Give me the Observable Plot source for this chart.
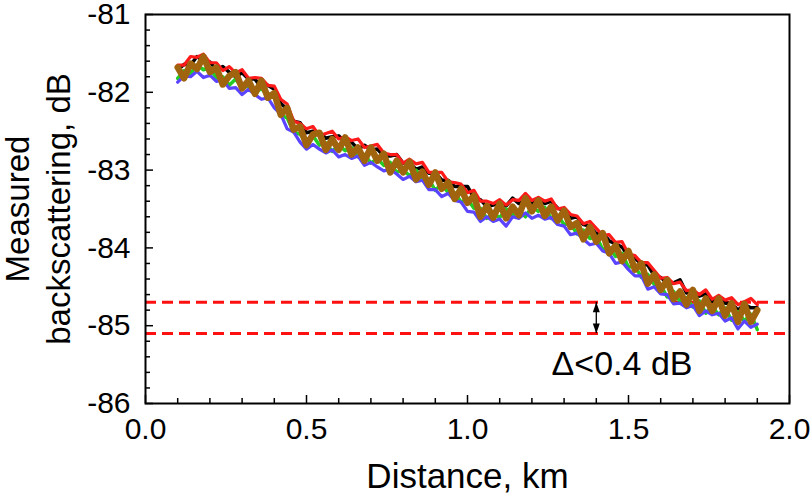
<!DOCTYPE html>
<html>
<head>
<meta charset="utf-8">
<script src="https://cdn.jsdelivr.net/npm/d3@7"></script>
<script src="https://cdn.jsdelivr.net/npm/@observablehq/plot@0.6"></script>
<style>
  html, body { margin: 0; padding: 0; background: #fff; }
  #chart svg { display: block; overflow: visible; }
</style>
</head>
<body>
<div id="chart"></div>
<script>
// Sampling positions along the fibre (km)
const distance = [0.10,0.12,0.14,0.16,0.18,0.20,0.22,0.24,0.26,0.28,0.30,0.32,0.34,0.36,0.38,0.40,0.42,0.44,0.46,0.48,
  0.50,0.52,0.54,0.56,0.58,0.60,0.62,0.64,0.66,0.68,0.70,0.72,0.74,0.76,0.78,0.80,0.82,0.84,0.86,0.88,
  0.90,0.92,0.94,0.96,0.98,1.00,1.02,1.04,1.06,1.08,1.10,1.12,1.14,1.16,1.18,1.20,1.22,1.24,1.26,1.28,
  1.30,1.32,1.34,1.36,1.38,1.40,1.42,1.44,1.46,1.48,1.50,1.52,1.54,1.56,1.58,1.60,1.62,1.64,1.66,1.68,
  1.70,1.72,1.74,1.76,1.78,1.80,1.82,1.84,1.86,1.88,1.90];

// Measured backscattering traces (dB)
const traceBlack = [-81.71,-81.64,-81.65,-81.54,-81.60,-81.61,-81.71,-81.67,-81.74,-81.80,-81.75,-81.83,-81.83,-81.94,-81.91,-81.96,-82.14,-82.22,-82.37,-82.39,
  -82.52,-82.50,-82.51,-82.59,-82.57,-82.56,-82.64,-82.64,-82.73,-82.68,-82.74,-82.73,-82.82,-82.82,-82.80,-82.91,-82.91,-82.99,-82.96,-83.04,
  -83.03,-83.13,-83.13,-83.21,-83.21,-83.21,-83.36,-83.38,-83.47,-83.45,-83.41,-83.46,-83.36,-83.43,-83.39,-83.43,-83.36,-83.43,-83.40,-83.49,
  -83.52,-83.62,-83.60,-83.70,-83.72,-83.82,-83.80,-83.91,-83.95,-83.99,-84.11,-84.13,-84.21,-84.22,-84.36,-84.38,-84.45,-84.45,-84.41,-84.58,
  -84.57,-84.62,-84.59,-84.69,-84.65,-84.71,-84.71,-84.80,-84.73,-84.77,-84.77];
const traceRed = [-81.65,-81.65,-81.54,-81.55,-81.51,-81.62,-81.62,-81.72,-81.67,-81.75,-81.71,-81.82,-81.81,-81.82,-81.91,-81.92,-82.09,-82.15,-82.37,-82.40,
  -82.47,-82.44,-82.56,-82.53,-82.50,-82.60,-82.57,-82.62,-82.60,-82.71,-82.69,-82.67,-82.78,-82.80,-82.80,-82.91,-82.86,-82.92,-82.90,-83.03,
  -83.03,-83.03,-83.15,-83.16,-83.18,-83.29,-83.26,-83.40,-83.40,-83.43,-83.38,-83.45,-83.38,-83.39,-83.30,-83.39,-83.35,-83.40,-83.37,-83.50,
  -83.48,-83.57,-83.59,-83.69,-83.66,-83.75,-83.84,-83.83,-83.93,-83.92,-84.08,-84.10,-84.19,-84.19,-84.29,-84.39,-84.38,-84.46,-84.44,-84.55,
  -84.54,-84.60,-84.54,-84.66,-84.61,-84.67,-84.64,-84.73,-84.69,-84.65,-84.73];
const traceGreen = [-81.82,-81.72,-81.76,-81.65,-81.71,-81.68,-81.82,-81.80,-81.91,-81.83,-81.94,-81.92,-82.01,-81.95,-82.05,-82.06,-82.29,-82.33,-82.51,-82.54,
  -82.65,-82.56,-82.68,-82.65,-82.76,-82.68,-82.75,-82.71,-82.83,-82.80,-82.91,-82.85,-82.94,-82.90,-83.03,-83.00,-83.07,-83.00,-83.12,-83.12,
  -83.26,-83.18,-83.29,-83.29,-83.41,-83.37,-83.49,-83.49,-83.62,-83.56,-83.61,-83.50,-83.58,-83.52,-83.60,-83.47,-83.53,-83.48,-83.62,-83.58,
  -83.70,-83.69,-83.82,-83.77,-83.88,-83.85,-84.02,-83.99,-84.11,-84.07,-84.25,-84.23,-84.38,-84.34,-84.47,-84.48,-84.63,-84.56,-84.69,-84.64,
  -84.76,-84.68,-84.84,-84.75,-84.86,-84.77,-84.93,-84.82,-84.94,-84.85,-85.05];
const traceBlue = [-81.87,-81.79,-81.80,-81.73,-81.81,-81.78,-81.86,-81.84,-81.95,-81.94,-82.03,-81.96,-82.03,-82.09,-82.07,-82.20,-82.28,-82.47,-82.51,-82.64,
  -82.73,-82.67,-82.73,-82.78,-82.74,-82.83,-82.80,-82.85,-82.82,-82.94,-82.90,-82.96,-83.01,-82.99,-83.05,-83.12,-83.08,-83.15,-83.13,-83.25,
  -83.25,-83.34,-83.30,-83.39,-83.41,-83.53,-83.54,-83.66,-83.60,-83.66,-83.63,-83.72,-83.60,-83.62,-83.55,-83.62,-83.58,-83.63,-83.61,-83.70,
  -83.72,-83.83,-83.81,-83.89,-83.96,-83.94,-84.04,-84.07,-84.20,-84.18,-84.28,-84.36,-84.36,-84.53,-84.50,-84.59,-84.60,-84.72,-84.71,-84.77,
  -84.74,-84.87,-84.81,-84.86,-84.84,-84.94,-84.90,-85.04,-84.94,-85.02,-84.98];
const traceBrown = [-81.68,-81.82,-81.63,-81.70,-81.54,-81.74,-81.68,-81.90,-81.79,-81.74,-81.95,-81.85,-82.02,-81.85,-82.07,-82.01,-82.29,-82.20,-82.48,-82.44,
  -82.68,-82.54,-82.52,-82.74,-82.60,-82.74,-82.58,-82.80,-82.71,-82.88,-82.71,-82.88,-82.79,-83.03,-82.88,-83.03,-82.89,-83.12,-83.02,-83.19,
  -83.03,-83.24,-83.16,-83.37,-83.24,-83.42,-83.33,-83.60,-83.46,-83.61,-83.43,-83.62,-83.47,-83.58,-83.36,-83.53,-83.39,-83.59,-83.47,-83.65,
  -83.52,-83.73,-83.68,-83.89,-83.73,-83.92,-83.81,-84.07,-83.97,-84.17,-84.04,-84.28,-84.20,-84.46,-84.34,-84.54,-84.41,-84.66,-84.56,-84.73,
  -84.54,-84.81,-84.65,-84.81,-84.65,-84.87,-84.71,-84.95,-84.72,-84.95,-84.80];

const traceColors = ["#000000", "#ff1a1a", "#22cc22", "#5a44ff", "#a0640e"];
const traceWidths = [3.5, 3.2, 3.5, 3.2, 6.5];
const traces = [traceBlack, traceRed, traceGreen, traceBlue, traceBrown];

// Annotation values
const dashLevels = [-84.7, -85.1];
const arrowDistance = [1.4];
const deltaLabel = ["Δ<0.4 dB"];
const deltaLabelPos = {x: 1.48, y: -85.5};

// Axis ticks
const xMajorTicks = [0, 0.5, 1.0, 1.5, 2.0];
const xMinorTicks = [0.1,0.2,0.3,0.4,0.6,0.7,0.8,0.9,1.1,1.2,1.3,1.4,1.6,1.7,1.8,1.9];
const yMajorTicks = [-86, -85, -84, -83, -82, -81];
const yMinorTicks = [-85.8,-85.6,-85.4,-85.2,-84.8,-84.6,-84.4,-84.2,-83.8,-83.6,-83.4,-83.2,-82.8,-82.6,-82.4,-82.2,-81.8,-81.6,-81.4,-81.2];
const xTitle = "Distance, km";
const yTitle = "Measured\nbackscattering, dB";

const font = "'Liberation Sans', Arial, Helvetica, sans-serif";

const lineMarks = traces.map((vals, k) =>
  Plot.line(distance.map((d, i) => ({d, v: vals[i]})), {
    x: "d", y: "v", stroke: traceColors[k], strokeWidth: traceWidths[k], strokeLinejoin: "round"
  })
);

// narrow filled arrow head, tip at origin, pointing up
const headSymbol = {
  draw(ctx) { ctx.moveTo(0, 0); ctx.lineTo(-3.5, 10); ctx.lineTo(3.5, 10); ctx.closePath(); }
};

const chart = Plot.plot({
  width: 810,
  height: 495,
  marginLeft: 145,
  marginRight: 21,
  marginTop: 14,
  marginBottom: 92,
  style: {fontFamily: font, fontSize: "30px", color: "#000", background: "#fff", overflow: "visible"},
  x: {domain: [0, 2], label: null},
  y: {domain: [-86, -81], label: null},
  marks: [
    Plot.ruleY(dashLevels, {stroke: "#ff1010", strokeWidth: 3, strokeDasharray: "11,6"}),
    ...lineMarks,
    Plot.ruleX(arrowDistance, {y1: dashLevels[0], y2: dashLevels[1], stroke: "#000", strokeWidth: 1.3}),
    Plot.dot(arrowDistance, {x: d => d, y: dashLevels[0], symbol: headSymbol, fill: "#000", stroke: null}),
    Plot.dot(arrowDistance, {x: d => d, y: dashLevels[1], symbol: headSymbol, fill: "#000", stroke: null, rotate: 180}),
    Plot.text(deltaLabel, {x: deltaLabelPos.x, y: deltaLabelPos.y, text: d => d, fontSize: 34, fill: "#000"}),
    Plot.frame({stroke: "#000", strokeWidth: 2}),
    Plot.axisX(xMinorTicks, {tickSize: -5, tickFormat: () => "", strokeWidth: 1.5, label: null}),
    Plot.axisX(xMajorTicks, {tickSize: -8, tickFormat: () => "", strokeWidth: 1.5, label: null}),
    Plot.axisX(xMajorTicks, {tickSize: 0, tickPadding: 14, tickFormat: d3.format(".1f"), fontSize: 30, label: null}),
    Plot.axisY(yMinorTicks, {tickSize: -5, tickFormat: () => "", strokeWidth: 1.5, label: null}),
    Plot.axisY(yMajorTicks, {tickSize: -8, tickFormat: () => "", strokeWidth: 1.5, label: null}),
    Plot.axisY(yMajorTicks, {tickSize: 0, tickPadding: 15, tickFormat: d => String(d), fontSize: 30, label: null}),
    Plot.text([xTitle], {frameAnchor: "bottom", dy: 73, text: d => d, fontSize: 35, lineAnchor: "middle"}),
    Plot.text([yTitle], {frameAnchor: "left", dx: -109, text: d => d, fontSize: 33, rotate: -90, textAnchor: "middle", lineAnchor: "middle", lineHeight: 1.22})
  ]
});
document.getElementById("chart").appendChild(chart);
</script>
</body>
</html>
